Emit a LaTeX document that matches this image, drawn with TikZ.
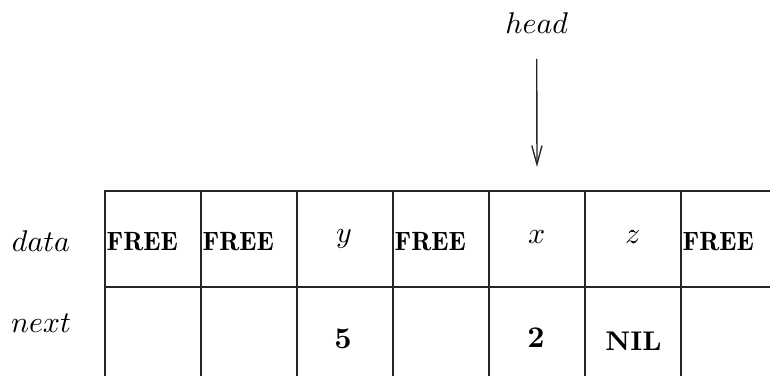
\documentclass[tikz,border=0pt]{standalone}
\usetikzlibrary{arrows.meta}
\begin{document}
\begin{tikzpicture}[x=0.33333pt, y=-0.33333pt,
  line width=0.45pt,
  cell/.style={draw=black!85, minimum width=32pt, minimum height=32pt, inner sep=0pt, outer sep=0pt},
  mathlbl/.style={inner sep=0pt, anchor=base, font=\fontsize{10}{12}\selectfont},
  freetxt/.style={inner sep=0pt, anchor=base west, font=\fontsize{8.8}{10}\selectfont\fontseries{b}\selectfont},
  numtxt/.style={inner sep=0pt, anchor=base, font=\fontsize{10}{12}\selectfont\bfseries},
  niltxt/.style={inner sep=0pt, anchor=base, font=\fontsize{9}{11}\selectfont\bfseries},
  ptr/.style={draw=black!85, -{Straight Barb[length=6.3pt,width=3.4pt]}}]
\useasboundingbox (0,0) rectangle (770,376);
\clip (0,0) rectangle (770,376);

% row labels
\node[mathlbl] (ldata) at (41,252) {$data$};
\node[mathlbl] (lnext) at (41,332) {$next$};

% the array: seven slots, data row and next row
\foreach \i in {1,...,7} {
  \node[cell] (d\i) at ({105+96*(\i-1)+48},239) {};
  \node[cell] (n\i) at ({105+96*(\i-1)+48},335) {};
}

% data row contents
\node[freetxt] (f1) at (106,251) {FREE};
\node[freetxt] (f2) at (202,251) {FREE};
\node[mathlbl] (vy) at (344,243) {$y$};
\node[freetxt] (f4) at (394,251) {FREE};
\node[mathlbl] (vx) at (536.7,244) {$x$};
\node[mathlbl] (vz) at (632.7,244) {$z$};
\node[freetxt] (f7) at (682,251) {FREE};

% next row contents
\node[numtxt] (p3) at (343,349) {5};
\node[numtxt] (p5) at (536,348) {2};
\node[niltxt] (p6) at (633.5,350) {NIL};

% head pointer
\node[mathlbl] (head) at (536.7,33.5) {$head$};
\draw[ptr, shorten <=8.5pt, shorten >=8pt] (head.base) -- (d5.north);
\end{tikzpicture}
\end{document}
